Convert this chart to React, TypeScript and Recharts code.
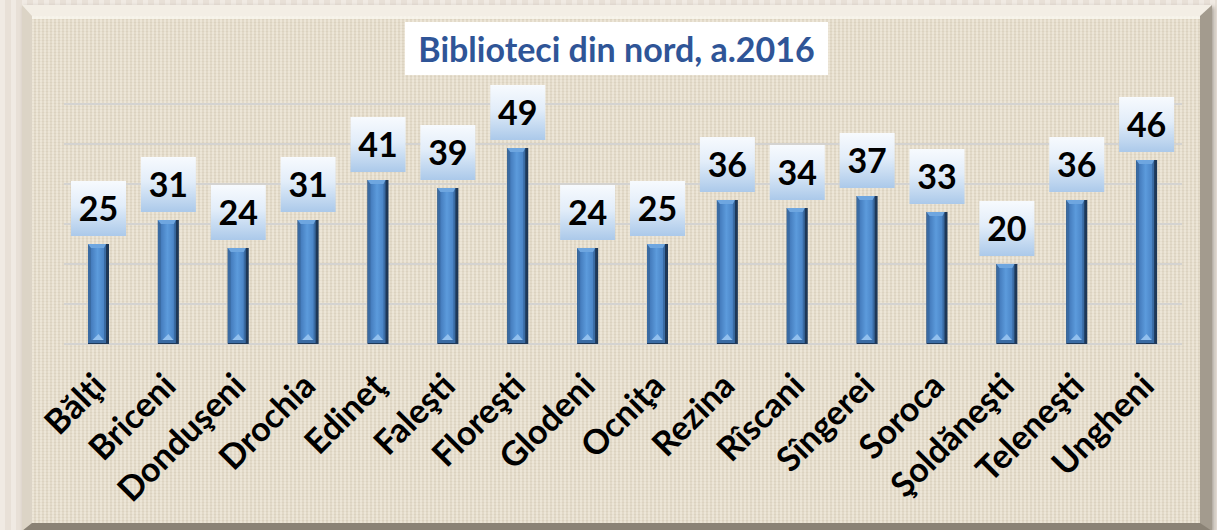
import React from "react"
import { BarChart, Bar, XAxis, YAxis, CartesianGrid, LabelList } from "recharts"

const raioane = [
  "Bălţi", "Briceni", "Donduşeni", "Drochia", "Edineţ", "Faleşti", "Floreşti", "Glodeni",
  "Ocniţa", "Rezina", "Rîscani", "Sîngerei", "Soroca", "Şoldăneşti", "Teleneşti", "Ungheni",
]
const biblioteci = [25, 31, 24, 31, 41, 39, 49, 24, 25, 36, 34, 37, 33, 20, 36, 46]
const yTicks = [0, 10, 20, 30, 40, 50, 60]

const data = raioane.map((name, i) => ({ name, value: biblioteci[i] }))

const FONT = "Lato, 'Open Sans', sans-serif"

function BevelBar(props: any) {
  const { x, y, width, height, index } = props
  if (!height || height <= 0) return null
  const id = `bf${index}`
  const cx = x + width / 2
  return (
    <g>
      <defs>
        <linearGradient id={id} x1="0" y1="0" x2="1" y2="0">
          <stop offset="0" stopColor="#447BBC" />
          <stop offset="0.5" stopColor="#5C9BDC" />
          <stop offset="1" stopColor="#4A84C6" />
        </linearGradient>
      </defs>
      <rect x={x} y={y} width={width} height={height} fill="#1E3858" />
      <rect x={x} y={y} width={width - 3} height={height - 1} fill="#3A6BA3" />
      <rect x={x + 3} y={y + 4} width={width - 8} height={height - 8} fill={`url(#${id})`} />
      <polygon points={`${x},${y} ${x + width - 3},${y} ${x + width - 5},${y + 4} ${x + 3},${y + 4}`} fill="#6EA6E0" />
      <polygon points={`${cx - 6},${y + height - 4} ${cx + 5},${y + height - 4} ${cx},${y + height - 10}`} fill="#92C0EE" />
    </g>
  )
}

function ValueBox(props: any) {
  const { x, y, width, value, index } = props
  const cx = x + width / 2
  const w = 55
  const h = 55
  const top = y - 8 - h
  const id = `lb${index}`
  return (
    <g>
      <defs>
        <linearGradient id={id} x1="0" y1="0" x2="0" y2="1">
          <stop offset="0" stopColor="#F7FAFE" />
          <stop offset="0.45" stopColor="#E2EDF9" />
          <stop offset="1" stopColor="#ABC9EA" />
        </linearGradient>
      </defs>
      <rect x={cx - w / 2} y={top} width={w} height={h} fill={`url(#${id})`} />
      <text x={cx} y={top + h / 2 + 12} textAnchor="middle" fontFamily={FONT} fontWeight={700} fontSize={34} fill="#000">
        {value}
      </text>
    </g>
  )
}

function RotatedTick(props: any) {
  const { x, y, payload } = props
  const ax = x + 9
  const ay = y + 36
  return (
    <text x={ax} y={ay} transform={`rotate(-45, ${ax}, ${ay})`} textAnchor="end" fontFamily={FONT} fontWeight={700} fontSize={34} fill="#000">
      {payload.value}
    </text>
  )
}

export default function App() {
  return (
    <div style={{ position: "absolute", left: 0, top: 0, width: 1217, height: 530, overflow: "hidden",
      background: "repeating-linear-gradient(90deg, #F0EAE3 0px, #F0EAE3 5px, #E8E0D7 5px, #E8E0D7 11px)" }}>
      <div style={{ position: "absolute", left: 22, top: 5, width: 1190, height: 526, boxSizing: "border-box",
        borderStyle: "solid", borderWidth: "11px 12px 8px 10px",
        borderColor: "#F3EEE5 #A39B8E #8A8275 #DCD4C6",
        background: "repeating-linear-gradient(0deg, #E8E0CF 0px, #E8E0CF 2px, #E0D7C4 2px, #E0D7C4 3px), #E6DDCB",
        boxShadow: "2px 2px 4px rgba(80,70,60,0.45)" }}>
        <div style={{ position: "absolute", inset: 0,
          background: "repeating-linear-gradient(90deg, rgba(245,240,230,0.35) 0px, rgba(245,240,230,0.35) 2px, rgba(205,195,178,0.22) 2px, rgba(205,195,178,0.22) 4px)" }} />
        <div style={{ position: "absolute", left: 0, right: 0, top: 0, height: 3, background: "rgba(250,247,240,0.8)" }} />
      </div>
      <div style={{ position: "absolute", left: 405, top: 22, width: 423, height: 53, background: "#FFFFFF",
        display: "flex", alignItems: "center", justifyContent: "center",
        fontFamily: FONT, fontWeight: 700, fontSize: 34, color: "#2F5597", whiteSpace: "nowrap" }}>
        Biblioteci din nord, a.2016
      </div>
      <div style={{ position: "absolute", left: 0, top: 0 }}>
        <BarChart width={1217} height={530} data={data} margin={{ top: 104, right: 35, bottom: 0, left: 64 }}>
          <CartesianGrid vertical={false} stroke="#D4D3D1" strokeWidth={2} />
          <YAxis hide domain={[0, 60]} ticks={yTicks} />
          <XAxis dataKey="name" height={186} axisLine={false} tickLine={false} interval={0} tick={<RotatedTick />} />
          <Bar dataKey="value" barSize={21} shape={<BevelBar />} isAnimationActive={false}>
            <LabelList dataKey="value" content={<ValueBox />} />
          </Bar>
        </BarChart>
      </div>
    </div>
  )
}
